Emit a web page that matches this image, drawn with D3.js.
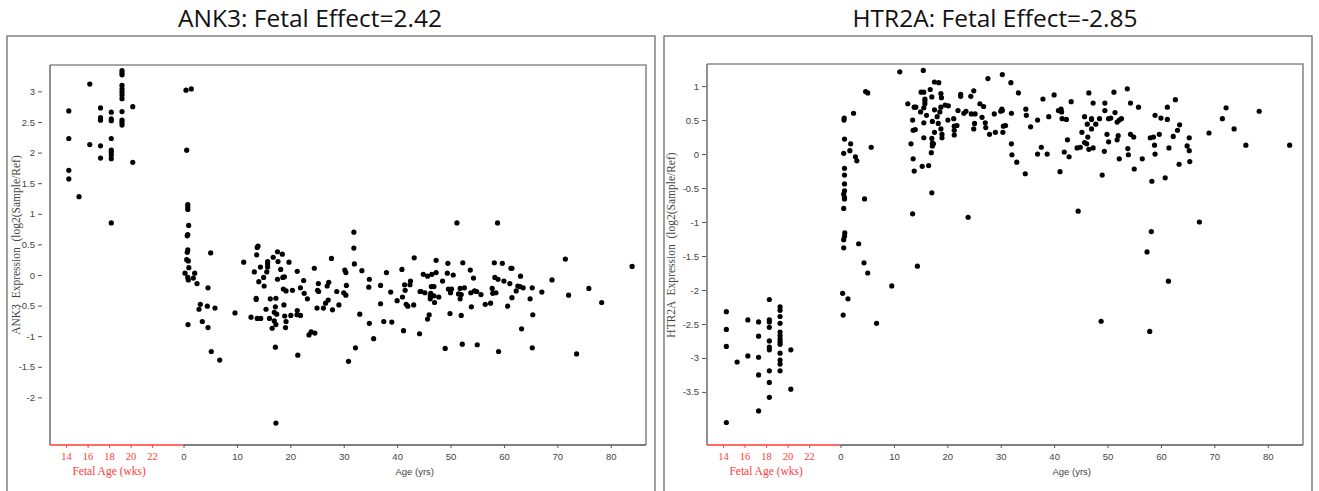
<!DOCTYPE html>
<html>
<head>
<meta charset="utf-8">
<script src="https://cdn.jsdelivr.net/npm/d3@7"></script>
<style>
  body { margin: 0; background: #fff; }
  svg { display: block; }
</style>
</head>
<body>
<svg></svg>
<script>
const width = 1319;
const height = 491;

// tick labels
const fetalTicks = [14, 16, 18, 20, 22];
const ageTicks = [0, 10, 20, 30, 40, 50, 60, 70, 80];
const ank3YTicks = [-2, -1.5, -1, -0.5, 0, 0.5, 1, 1.5, 2, 2.5, 3];
const htr2aYTicks = [-3.5, -3, -2.5, -2, -1.5, -1, -0.5, 0, 0.5, 1];

// ANK3 fetal samples: [weeks, expression]
const ank3Fetal = [
  [14.25, 2.68], [14.25, 2.23], [14.25, 1.71], [14.25, 1.57], [15.2, 1.28],
  [16.2, 3.12], [16.2, 2.13],
  [17.2, 2.73], [17.2, 2.57], [17.2, 2.53], [17.2, 2.11], [17.2, 1.91],
  [18.2, 2.66], [18.2, 2.55], [18.2, 2.52], [18.2, 2.23], [18.2, 2.04], [18.2, 2.0], [18.2, 1.96], [18.2, 1.9], [18.2, 0.85],
  [19.2, 3.34], [19.2, 3.3], [19.2, 3.27], [19.2, 3.1], [19.2, 3.04], [19.2, 2.99], [19.2, 2.94], [19.2, 2.88],
  [19.2, 2.67], [19.2, 2.53], [19.2, 2.49], [19.2, 2.45],
  [20.2, 2.75], [20.2, 1.84]
];

// ANK3 postnatal samples: [years, expression]
const ank3Post = [
  [0.47, 3.02], [1.46, 3.04], [0.6, 2.04], [0.8, 1.15], [0.8, 1.11], [0.8, 1.07], [0.97, 0.81],
  [0.8, 0.66], [0.7, 0.64], [0.8, 0.41], [0.7, 0.37], [0.6, 0.25], [0.9, 0.23], [1.0, 0.12], [0.8, -0.04], [0.9, -0.08], [0.28, 0.03],
  [1.84, -0.05], [2.1, 0.03], [2.53, -0.14], [4.59, -0.21], [5.09, 0.36], [3.15, -0.48], [2.9, -0.56], [4.46, -0.51], [5.9, -0.54],
  [3.52, -0.76], [4.59, -0.86], [0.84, -0.81], [5.2, -1.25], [6.78, -1.39], [9.64, -0.62], [11.27, 0.21],
  [12.64, -0.69], [13.8, -0.71], [14.46, -0.71], [13.26, 0.05], [13.7, 0.33], [13.95, 0.47], [13.8, 0.45], [13.6, -0.4], [13.6, -0.38],
  [14.1, -0.11], [14.4, 0.13], [15.0, -0.04], [15.1, -0.18], [15.45, -0.56], [15.75, 0.22], [15.75, 0.18], [15.75, 0.13], [15.6, 0.05],
  [16.1, -0.71], [16.25, -0.39], [16.6, -0.87], [16.8, 0.29], [17.6, 0.38], [18.5, 0.34], [17.7, 0.22], [18.2, 0.09], [17.6, -0.07],
  [18.6, -0.04], [18.9, -0.03], [17.3, -0.38], [17.2, -0.52], [17.0, -0.61], [17.45, -0.64], [17.0, -0.75], [17.3, -0.81], [17.2, -1.18],
  [18.7, -0.23], [19.2, -0.26], [18.8, -0.49], [18.95, -0.67], [19.2, -0.76], [19.1, -0.86], [19.75, 0.21], [20.4, -0.25], [20.1, -0.66],
  [21.3, 0.06], [21.3, -0.58], [21.25, -0.65], [21.9, -0.66], [21.4, -1.31], [21.9, -0.21], [22.5, -0.09], [22.6, -0.3], [23.2, -0.39],
  [23.5, -0.98], [23.9, -0.93], [24.6, -0.95], [24.5, 0.11], [25.0, -0.54], [25.1, -0.25], [25.3, -0.27], [25.25, -0.14], [26.2, -0.54],
  [26.6, -0.46], [26.9, -0.18], [27.1, -0.41], [27.2, -0.12], [27.7, 0.27], [27.9, -0.57], [28.7, -0.27], [29.1, -0.49], [30.0, -0.29],
  [30.4, -0.33], [30.2, 0.08], [30.4, 0.04], [30.5, -0.17], [30.9, -1.41], [31.9, 0.7], [31.9, 0.44], [32.0, 0.18], [32.2, -1.19],
  [33.0, -0.64], [33.4, 0.07], [34.7, -0.2], [34.8, -0.07], [34.8, -0.79], [35.6, -1.04], [36.9, -0.17], [36.9, -0.47], [37.5, -0.76],
  [38.0, 0.04], [38.8, -0.28], [39.0, -0.77], [40.0, -0.42], [40.9, 0.09], [41.0, -0.36], [41.2, -0.91], [41.5, -0.25], [41.4, -0.16],
  [42.4, -0.16], [42.5, -0.1], [41.7, -0.48], [42.0, -0.51], [43.1, -0.49], [43.2, 0.28], [44.2, -0.96], [44.3, -0.27],
  [47.3, 0.24], [49.5, 0.19], [52.3, 0.2], [58.2, 0.2], [59.7, 0.19], [44.9, 0.01], [45.7, -0.02], [46.5, 0.01], [47.3, 0.04],
  [48.5, -0.1], [49.4, 0.03], [50.5, 0.0], [53.7, 0.08], [54.3, -0.05], [46.4, -0.19], [46.9, -0.19], [44.5, -0.27], [45.2, -0.29],
  [46.3, -0.3], [46.2, -0.34], [46.9, -0.34], [47.8, -0.36], [46.2, -0.39], [47.0, -0.45], [49.6, -0.23], [50.2, -0.23], [50.0, -0.29],
  [51.5, -0.31], [52.0, -0.32], [51.8, -0.22], [52.6, -0.21], [51.8, -0.39], [53.8, -0.29], [54.5, -0.26], [54.9, -0.27], [55.7, -0.32],
  [53.9, -0.52], [56.5, -0.48], [57.5, -0.46], [57.8, -0.22], [57.9, -0.3], [58.5, -0.29], [58.3, -0.04], [58.9, -0.07], [60.0, -0.1],
  [61.1, -0.14], [61.3, 0.11], [61.5, 0.11], [63.1, -0.02], [62.6, -0.18], [63.0, -0.19], [62.3, -0.26], [63.6, -0.21], [61.5, -0.37],
  [60.7, -0.51], [64.9, -0.39], [65.3, -0.21], [67.1, -0.28], [69.0, -0.08], [71.5, 0.26], [72.1, -0.33], [75.9, -0.22], [78.3, -0.45],
  [84.0, 0.14], [49.9, -0.63], [52.0, -0.66], [46.0, -0.65], [45.7, -0.72], [65.4, -0.65], [63.3, -0.88], [49.0, -1.2], [52.2, -1.13],
  [55.0, -1.14], [59.0, -1.25], [65.3, -1.19], [73.6, -1.29], [51.2, 0.85], [58.8, 0.85], [17.3, -2.42]
];

// HTR2A fetal samples: [weeks, expression]
const htr2aFetal = [
  [14.3, -2.32], [14.3, -2.58], [14.3, -2.83], [14.3, -3.95], [15.3, -3.06], [16.3, -2.44], [16.3, -2.97],
  [17.3, -2.47], [17.3, -2.68], [17.3, -2.99], [17.3, -3.25], [17.3, -3.78],
  [18.3, -2.14], [18.3, -2.44], [18.3, -2.47], [18.3, -2.55], [18.3, -2.75], [18.3, -2.84], [18.3, -2.88], [18.3, -3.19],
  [18.3, -3.36], [18.3, -3.58],
  [19.3, -2.25], [19.3, -2.3], [19.3, -2.39], [19.3, -2.49], [19.3, -2.62], [19.3, -2.67], [19.3, -2.72], [19.3, -2.76],
  [19.3, -2.8], [19.3, -2.93], [19.3, -3.03], [19.3, -3.09], [19.3, -3.19],
  [20.3, -2.88], [20.3, -3.46]
];

// HTR2A postnatal samples: [years, expression]
const htr2aPost = [
  [0.8, -1.16], [0.75, -1.21], [0.6, -1.26], [0.6, -1.38], [3.4, -1.32], [4.4, -1.6], [5.1, -1.75], [0.4, -2.05], [1.4, -2.13],
  [0.5, -2.37], [6.75, -2.49], [9.6, -1.94],
  [0.65, 0.5], [0.7, 0.53], [2.44, 0.6], [0.75, 0.22], [1.9, 0.15], [0.6, 0.01], [1.75, 0.05], [2.8, -0.04], [3.06, -0.1], [4.7, 0.92],
  [5.1, 0.9], [5.75, 0.1], [0.75, -0.21], [0.75, -0.31], [0.75, -0.44], [0.75, -0.54], [0.6, -0.59], [0.75, -0.64], [0.75, -0.66],
  [0.6, -0.8], [4.5, -0.66],
  [11.1, 1.21], [15.5, 1.23], [17.6, 1.06], [18.4, 1.05], [15.1, 0.91], [15.6, 0.91], [16.8, 0.95], [18.8, 0.89], [18.9, 0.83],
  [17.1, 0.84], [15.8, 0.81], [15.8, 0.78], [15.8, 0.74], [12.6, 0.74], [13.8, 0.69], [14.1, 0.69], [15.0, 0.62], [15.6, 0.68],
  [16.1, 0.57], [17.6, 0.65], [18.6, 0.62], [18.8, 0.69], [18.1, 0.55], [17.2, 0.48], [15.6, 0.46], [13.5, 0.5], [14.0, 0.36],
  [13.6, 0.35], [15.6, 0.24], [17.1, 0.23], [17.6, 0.32], [18.3, 0.45], [18.8, 0.37], [19.0, 0.29], [19.0, 0.24], [17.2, 0.16],
  [17.4, 0.15], [17.2, 0.12], [13.2, 0.15], [17.0, 0.02], [13.6, -0.07], [13.8, -0.25], [15.3, -0.18], [16.5, -0.17], [17.1, -0.57],
  [13.5, -0.88], [23.9, -0.93], [19.6, 0.72], [20.2, 0.71], [20.1, 0.5], [21.2, 0.52], [21.3, 0.41], [21.8, 0.42], [21.3, 0.35],
  [21.3, 0.28], [22.0, 0.64], [22.5, 0.88], [22.5, 0.85], [23.1, 0.6], [23.5, 0.63], [24.4, 0.85], [24.95, 0.93], [24.5, 0.59],
  [25.2, 0.59], [25.1, 0.45], [24.95, 0.37], [26.1, 0.74], [26.8, 0.7], [26.5, 0.54], [27.1, 0.46], [27.2, 0.39], [27.9, 0.29],
  [28.8, 0.59], [27.6, 1.11], [29.0, 0.32], [30.0, 0.63], [30.2, 0.66], [30.3, 0.64], [30.3, 1.17], [30.5, 0.41], [30.9, 0.42],
  [30.4, 0.32], [31.9, 1.05], [32.0, 0.6], [32.0, 0.15], [32.1, -0.01], [33.0, -0.12], [33.3, 0.9], [34.6, -0.29], [34.7, 0.66],
  [34.8, 0.57], [35.6, 0.4], [36.9, 0.5], [36.9, 0.0], [37.6, 0.1], [37.9, 0.81], [38.7, 0.0], [39.0, 0.55], [40.0, 0.87],
  [40.8, 0.64], [41.3, 0.66], [41.4, 0.62], [41.5, 0.52], [42.3, 0.51], [41.1, -0.26], [41.9, 0.03], [42.5, 0.21], [42.8, -0.04],
  [43.2, 0.77], [46.5, 0.9], [47.3, 0.75], [49.5, 0.75], [51.2, 0.91], [53.7, 0.96], [54.3, 0.75], [55.8, 0.69], [62.7, 0.8],
  [61.2, 0.69], [49.5, 0.64], [51.4, 0.61], [45.7, 0.55], [47.0, 0.52], [47.0, 0.51], [48.5, 0.52], [50.2, 0.52], [50.6, 0.53],
  [51.8, 0.47], [52.2, 0.5], [52.6, 0.52], [46.2, 0.44], [47.8, 0.44], [47.0, 0.37], [45.2, 0.32], [46.3, 0.25], [49.9, 0.29],
  [52.0, 0.27], [54.3, 0.29], [54.9, 0.25], [58.9, 0.57], [60.0, 0.53], [61.2, 0.51], [59.7, 0.29], [58.0, 0.24], [58.6, 0.25],
  [63.5, 0.43], [63.1, 0.35], [62.3, 0.26], [65.3, 0.24], [50.2, 0.18], [51.8, 0.21], [45.7, 0.17], [46.1, 0.15], [44.3, 0.09],
  [44.9, 0.1], [46.5, 0.07], [47.3, 0.09], [49.4, 0.04], [53.8, 0.08], [53.9, -0.01], [58.8, 0.13], [58.9, 0.0], [61.5, 0.09],
  [64.9, 0.12], [65.3, 0.05], [52.2, -0.07], [56.5, -0.07], [55.0, -0.22], [49.0, -0.31], [63.4, -0.15], [65.4, -0.11],
  [58.3, -0.4], [60.8, -0.35], [69.0, 0.31], [71.5, 0.52], [72.2, 0.68], [73.7, 0.37], [75.9, 0.13], [78.4, 0.63], [84.1, 0.13],
  [44.5, -0.84], [67.2, -1.0], [58.2, -1.14], [14.4, -1.65], [48.8, -2.46], [57.4, -1.44], [61.4, -1.87], [57.9, -2.61]
];

const panels = [
  {
    title: "ANK3: Fetal Effect=2.42", titleX: 310,
    boxX: 7, x0: 50, top: 65, yDomain: [-2.778, 3.431], yTicks: ank3YTicks, tickGap: 8,
    yLabel: "ANK3  Expression  (log2(Sample/Ref)", yLabelX: 17,
    fetal: ank3Fetal, post: ank3Post
  },
  {
    title: "HTR2A: Fetal Effect=-2.85", titleX: 995,
    boxX: 664, x0: 707, top: 64, yDomain: [-4.281, 1.325], yTicks: htr2aYTicks, tickGap: 1,
    yLabel: "HTR2A  Expression  (log2(Sample/Ref)", yLabelX: 672,
    fetal: htr2aFetal, post: htr2aPost
  }
];

const plotW = 596;
const bottom = 445;
const split = 133.5; // where postnatal axis starts
const red = "#ff3b3b";
const grey = "#555";

const svg = d3.select("svg").attr("width", width).attr("height", height);

panels.forEach((p) => {
  // outer panel box
  svg.append("rect")
    .attr("x", p.boxX).attr("y", 36)
    .attr("width", 648).attr("height", 470)
    .attr("fill", "none").attr("stroke", "#6e6e6e").attr("stroke-width", 1.3);

  svg.append("text")
    .attr("x", p.titleX).attr("y", 27)
    .attr("text-anchor", "middle")
    .style("font-family", "'Open Sans', 'Liberation Sans', sans-serif")
    .style("font-size", "24.5px")
    .attr("fill", "#111")
    .text(p.title);

  const g = svg.append("g").attr("transform", `translate(${p.x0},0)`);

  const y = d3.scaleLinear().domain(p.yDomain).range([bottom, p.top]);
  const xFetal = d3.scaleLinear().domain([12.5, 24.92]).range([0, split]);
  const xAge = d3.scaleLinear().domain([0, 86.6]).range([split, plotW]);

  // frame (top and right)
  g.append("path")
    .attr("d", `M0,${p.top}H${plotW}V${bottom}`)
    .attr("fill", "none").attr("stroke", "#8a8a8a").attr("stroke-width", 1.6);

  // y axis
  const yAxis = g.append("g")
    .attr("transform", `translate(${-p.tickGap},0)`)
    .call(d3.axisLeft(y).tickValues(p.yTicks).tickSize(4).tickPadding(3).tickFormat((d) => d));
  yAxis.select(".domain").remove();
  yAxis.selectAll("line").attr("stroke", grey);
  yAxis.selectAll("text")
    .attr("fill", "#444")
    .style("font-family", "'Liberation Sans', Arial, sans-serif")
    .style("font-size", "9.5px");

  g.append("line")
    .attr("x1", 0).attr("x2", 0).attr("y1", p.top).attr("y2", bottom)
    .attr("stroke", grey).attr("stroke-width", 1.3);

  // fetal x axis (red)
  const fAxis = g.append("g")
    .attr("transform", `translate(0,${bottom})`)
    .call(d3.axisBottom(xFetal).tickValues(fetalTicks).tickSize(3).tickPadding(5));
  fAxis.select(".domain").remove();
  fAxis.selectAll("line").attr("stroke", red);
  fAxis.selectAll("text")
    .attr("fill", red)
    .style("font-family", "'Liberation Serif', serif")
    .style("font-size", "10.5px");
  g.append("line")
    .attr("x1", 0).attr("x2", split).attr("y1", bottom).attr("y2", bottom)
    .attr("stroke", red).attr("stroke-width", 1.3);

  // postnatal x axis
  const aAxis = g.append("g")
    .attr("transform", `translate(0,${bottom})`)
    .call(d3.axisBottom(xAge).tickValues(ageTicks).tickSize(3).tickPadding(5));
  aAxis.select(".domain").remove();
  aAxis.selectAll("line").attr("stroke", grey);
  aAxis.selectAll("text")
    .attr("fill", "#444")
    .style("font-family", "'Liberation Sans', Arial, sans-serif")
    .style("font-size", "9.5px");
  g.append("line")
    .attr("x1", split).attr("x2", plotW).attr("y1", bottom).attr("y2", bottom)
    .attr("stroke", grey).attr("stroke-width", 1.3);

  // axis titles
  g.append("text")
    .attr("x", xFetal(18)).attr("y", 475)
    .attr("text-anchor", "middle")
    .attr("fill", red)
    .style("font-family", "'Liberation Serif', serif")
    .style("font-size", "11.5px")
    .text("Fetal Age (wks)");

  g.append("text")
    .attr("x", (split + plotW) / 2).attr("y", 475)
    .attr("text-anchor", "middle")
    .attr("fill", "#444")
    .style("font-family", "'Liberation Sans', Arial, sans-serif")
    .style("font-size", "9.5px")
    .text("Age (yrs)");

  svg.append("text")
    .attr("transform", `translate(${p.yLabelX},245) rotate(-90)`)
    .attr("text-anchor", "middle")
    .attr("dominant-baseline", "middle")
    .attr("fill", "#444")
    .style("font-family", "'Liberation Serif', serif")
    .style("font-size", "11.5px")
    .style("white-space", "pre")
    .text(p.yLabel);

  // points
  g.selectAll("circle.fetal")
    .data(p.fetal)
    .enter()
    .append("circle")
    .attr("class", "fetal")
    .attr("cx", (d) => xFetal(d[0]))
    .attr("cy", (d) => y(d[1]))
    .attr("r", 2.6)
    .attr("fill", "#000");

  g.selectAll("circle.post")
    .data(p.post)
    .enter()
    .append("circle")
    .attr("class", "post")
    .attr("cx", (d) => xAge(d[0]))
    .attr("cy", (d) => y(d[1]))
    .attr("r", 2.6)
    .attr("fill", "#000");
});
</script>
</body>
</html>
